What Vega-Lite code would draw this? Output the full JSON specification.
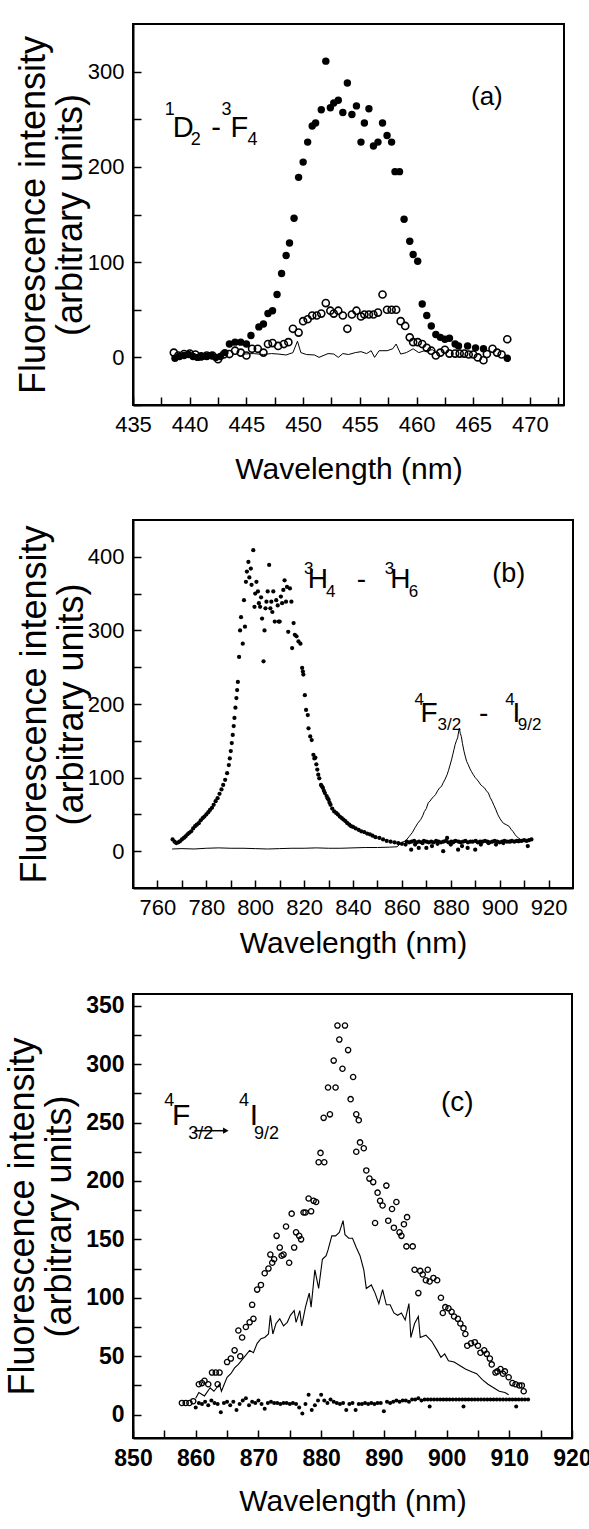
{
  "$schema": "https://vega.github.io/schema/vega-lite/v6.json",
  "padding": {"left": 3, "top": 23, "right": 0, "bottom": 0},
  "background": "white",
  "spacing": 34,
  "align": "none",
  "config": {
    "view": {"stroke": "black", "strokeWidth": 2},
    "font": "Liberation Sans",
    "axis": {
      "grid": false,
      "domainColor": "black",
      "domainWidth": 2,
      "tickColor": "black",
      "tickWidth": 1.5,
      "tickSize": -8,
      "labelPadding": 17,
      "labelColor": "black",
      "labelFont": "Liberation Sans",
      "labelFontSize": 22,
      "labelFlush": false,
      "labelOverlap": false,
      "titleColor": "black",
      "titleFont": "Liberation Sans",
      "titleFontWeight": "normal"
    },
    "axisX": {"titleFontSize": 30, "titlePadding": 14},
    "axisY": {"titleFontSize": 36, "titleLineHeight": 37, "titlePadding": 2}
  },
  "datasets": {
    "a_fill": [
      {"x":438.7,"y":-1},{"x":439.1,"y":1},{"x":439.5,"y":2},{"x":439.9,"y":3},{"x":440.3,"y":1},{"x":440.7,"y":0},{"x":441.1,"y":1},{"x":441.5,"y":1},{"x":441.9,"y":2},{"x":442.3,"y":0},{"x":442.7,"y":1},{"x":443.1,"y":5},
      {"x":443.5,"y":14},{"x":444.0,"y":16},{"x":444.5,"y":16},{"x":445.0,"y":14},{"x":445.4,"y":23},{"x":446.1,"y":32},{"x":446.5,"y":35},{"x":446.9,"y":46},{"x":447.3,"y":49},{"x":447.7,"y":66},{"x":448.1,"y":88},{"x":448.5,"y":107},{"x":448.8,"y":120},{"x":449.2,"y":146},{"x":449.6,"y":189},{"x":450.0,"y":205},{"x":450.4,"y":226},{"x":450.8,"y":243},{"x":451.1,"y":246},{"x":451.6,"y":260},{"x":452.0,"y":311},{"x":452.4,"y":262},{"x":452.7,"y":267},{"x":453.1,"y":270},{"x":453.5,"y":257},{"x":453.9,"y":288},{"x":454.3,"y":255},{"x":454.7,"y":264},{"x":455.1,"y":226},{"x":455.4,"y":246},{"x":455.8,"y":261},{"x":456.2,"y":222},{"x":456.6,"y":226},{"x":457.0,"y":246},{"x":457.4,"y":233},{"x":457.8,"y":226},{"x":458.1,"y":195},{"x":458.5,"y":195},{"x":458.9,"y":145},{"x":459.4,"y":122},{"x":459.7,"y":108},{"x":460.1,"y":101},{"x":460.5,"y":56},{"x":460.9,"y":44},{"x":461.3,"y":33},{"x":461.7,"y":24},{"x":462.1,"y":21},{"x":462.5,"y":19},{"x":462.9,"y":20},{"x":463.4,"y":14},{"x":463.7,"y":12},{"x":464.5,"y":12},{"x":465.2,"y":10},{"x":465.9,"y":9},{"x":468.0,"y":-1}
    ],
    "a_open": [
      {"x":438.6,"y":5},{"x":439.0,"y":2},{"x":439.5,"y":3.5},{"x":440.0,"y":4},{"x":440.5,"y":3},{"x":441.0,"y":1},{"x":441.5,"y":2},{"x":442.0,"y":2},{"x":442.5,"y":-2},{"x":443.0,"y":3},{"x":443.5,"y":3.5},{"x":444.0,"y":7},{"x":444.5,"y":5},{"x":445.0,"y":2},{"x":445.5,"y":9},{"x":446.0,"y":9},{"x":446.5,"y":5},{"x":446.9,"y":14},{"x":447.3,"y":15},{"x":447.8,"y":12},{"x":448.3,"y":14},{"x":448.7,"y":16},{"x":449.1,"y":30},{"x":449.6,"y":26},{"x":450.0,"y":38},{"x":450.4,"y":40},{"x":450.8,"y":44},{"x":451.2,"y":44},{"x":451.6,"y":46},{"x":452.0,"y":57},{"x":452.4,"y":49},{"x":452.7,"y":46},{"x":453.1,"y":49},{"x":453.5,"y":44},{"x":453.9,"y":30},{"x":454.3,"y":45},{"x":454.7,"y":49},{"x":455.1,"y":43},{"x":455.4,"y":45},{"x":455.8,"y":45},{"x":456.2,"y":45},{"x":456.6,"y":47},{"x":457.0,"y":66},{"x":457.4,"y":50},{"x":457.8,"y":50},{"x":458.2,"y":50},{"x":458.6,"y":38},{"x":459.0,"y":33},{"x":459.4,"y":21},{"x":459.7,"y":16},{"x":460.1,"y":16},{"x":460.5,"y":14},{"x":460.9,"y":10},{"x":461.3,"y":7},{"x":461.7,"y":2},{"x":462.1,"y":5},{"x":462.5,"y":8},{"x":462.9,"y":4},{"x":463.4,"y":4},{"x":463.8,"y":4},{"x":464.2,"y":4},{"x":464.6,"y":3},{"x":465.0,"y":3},{"x":465.4,"y":0},{"x":465.9,"y":-3},{"x":466.2,"y":3.5},{"x":466.7,"y":9},{"x":467.1,"y":5},{"x":467.5,"y":3},{"x":468.0,"y":19}
    ],
    "a_line": [
      {"x":444.8,"y":3.5},{"x":445.6,"y":4},{"x":446.5,"y":3},{"x":447.2,"y":4},{"x":447.8,"y":3.5},{"x":448.5,"y":2.5},{"x":449.1,"y":5},{"x":449.5,"y":17},{"x":449.8,"y":5},{"x":450.3,"y":3},{"x":451.0,"y":2.5},{"x":451.4,"y":0},{"x":452.2,"y":4},{"x":452.7,"y":3.5},{"x":453.1,"y":0},{"x":453.5,"y":4},{"x":454.0,"y":3},{"x":454.6,"y":5},{"x":455.1,"y":6},{"x":455.6,"y":4},{"x":456.0,"y":7},{"x":456.3,"y":0},{"x":456.7,"y":7},{"x":457.4,"y":7},{"x":457.9,"y":9},{"x":458.2,"y":14},{"x":458.6,"y":3.5},{"x":459.1,"y":5},{"x":459.7,"y":9},{"x":460.2,"y":5},{"x":460.7,"y":7},{"x":461.4,"y":8},{"x":461.8,"y":4}
    ],
    "b_dots": [
      {"x":766.2,"y":16},{"x":767.0,"y":13},{"x":767.7,"y":11},{"x":768.5,"y":12},{"x":769.2,"y":13.5},{"x":770.0,"y":16},{"x":770.8,"y":18},{"x":771.5,"y":20},{"x":772.3,"y":23},{"x":773.0,"y":25},{"x":773.8,"y":27},{"x":774.6,"y":31},{"x":775.4,"y":34},{"x":776.1,"y":36},{"x":776.9,"y":38},{"x":777.7,"y":42},{"x":778.5,"y":45},{"x":779.2,"y":47},{"x":780.0,"y":50},{"x":780.8,"y":53},{"x":781.5,"y":56},{"x":782.3,"y":59},{"x":783.0,"y":63},{"x":783.8,"y":68},{"x":784.6,"y":72},{"x":785.4,"y":78},{"x":786.2,"y":84},{"x":786.9,"y":90},{"x":787.7,"y":97},{"x":788.5,"y":106},{"x":789.2,"y":117},{"x":789.6,"y":126},{"x":790.0,"y":136},{"x":790.4,"y":147},{"x":790.8,"y":158},{"x":791.2,"y":170},{"x":791.5,"y":181},{"x":791.9,"y":195},{"x":792.3,"y":208},{"x":792.6,"y":219},{"x":792.9,"y":230},{"x":793.4,"y":264},{"x":793.8,"y":300},{"x":794.2,"y":318},{"x":794.9,"y":282},{"x":795.4,"y":341},{"x":795.8,"y":305},{"x":796.2,"y":366},{"x":796.6,"y":380},{"x":797.2,"y":393},{"x":797.6,"y":372},{"x":798.2,"y":384},{"x":798.5,"y":362},{"x":799.2,"y":409},{"x":799.7,"y":332},{"x":800.0,"y":350},{"x":800.5,"y":366},{"x":801.1,"y":353},{"x":801.5,"y":337},{"x":802.0,"y":332},{"x":802.4,"y":345},{"x":802.8,"y":316},{"x":803.4,"y":258},{"x":803.8,"y":300},{"x":804.2,"y":330},{"x":804.6,"y":339},{"x":805.1,"y":353},{"x":805.7,"y":389},{"x":806.2,"y":330},{"x":806.6,"y":339},{"x":807.0,"y":325},{"x":807.4,"y":353},{"x":808.0,"y":312},{"x":808.6,"y":341},{"x":809.2,"y":334},{"x":809.6,"y":312},{"x":810.0,"y":312},{"x":810.5,"y":346},{"x":811.0,"y":337},{"x":811.5,"y":355},{"x":812.0,"y":368},{"x":812.6,"y":339},{"x":813.0,"y":359},{"x":813.5,"y":298},{"x":814.2,"y":357},{"x":814.8,"y":339},{"x":815.1,"y":276},{"x":815.7,"y":310},{"x":816.2,"y":294},{"x":816.9,"y":292},{"x":817.7,"y":285},{"x":818.5,"y":282},{"x":819.2,"y":249},{"x":819.5,"y":244},{"x":819.7,"y":240},{"x":820.3,"y":212},{"x":820.8,"y":192},{"x":821.5,"y":185},{"x":821.8,"y":167},{"x":822.5,"y":156},{"x":823.1,"y":151},{"x":823.8,"y":131},{"x":824.2,"y":126},{"x":824.6,"y":127},{"x":825.0,"y":118},{"x":825.4,"y":111},{"x":825.8,"y":104},{"x":826.2,"y":99},{"x":826.9,"y":90},{"x":827.3,"y":88},{"x":827.7,"y":86},{"x":828.1,"y":82},{"x":828.5,"y":79},{"x":829.2,"y":75},{"x":829.6,"y":72},{"x":830.0,"y":70},{"x":830.4,"y":66},{"x":830.8,"y":63},{"x":831.5,"y":58},{"x":832.3,"y":54},{"x":833.1,"y":52},{"x":833.8,"y":50},{"x":834.6,"y":47},{"x":835.4,"y":45},{"x":836.1,"y":43},{"x":836.9,"y":41},{"x":837.7,"y":38},{"x":838.5,"y":36},{"x":839.2,"y":34},{"x":840.0,"y":33},{"x":841.1,"y":31},{"x":842.3,"y":29},{"x":843.4,"y":27},{"x":844.6,"y":26},{"x":845.8,"y":24},{"x":846.9,"y":23},{"x":848.0,"y":21},{"x":849.2,"y":19},{"x":850.8,"y":18},{"x":852.3,"y":16},{"x":853.8,"y":14},{"x":855.4,"y":13},{"x":857.0,"y":12},{"x":858.5,"y":11},{"x":860.0,"y":10},{"x":861.5,"y":9},
      {"x":862.0,"y":13},{"x":863.0,"y":12},{"x":863.8,"y":2},{"x":864.0,"y":13},{"x":865.0,"y":14},{"x":865.4,"y":9},{"x":866.0,"y":12},{"x":866.9,"y":4.5},{"x":867.0,"y":13},{"x":868.0,"y":12},{"x":868.5,"y":11},{"x":869.0,"y":14},{"x":870.0,"y":4.5},{"x":870.1,"y":13},{"x":871.0,"y":12},{"x":872.0,"y":13},{"x":872.3,"y":7},{"x":873.0,"y":12},{"x":874.0,"y":14},{"x":874.6,"y":10},{"x":875.0,"y":13},{"x":876.0,"y":12},{"x":876.9,"y":0},{"x":877.0,"y":13},{"x":878.0,"y":14},{"x":878.5,"y":18},{"x":879.0,"y":12},{"x":880.0,"y":9},{"x":880.2,"y":13},{"x":881.0,"y":12},{"x":881.5,"y":13.5},{"x":882.0,"y":14},{"x":883.0,"y":2},{"x":883.2,"y":13},{"x":884.0,"y":12},{"x":884.6,"y":7},{"x":885.0,"y":13},{"x":886.0,"y":14},{"x":886.9,"y":4.5},{"x":887.0,"y":12},{"x":888.0,"y":13},{"x":889.0,"y":13},{"x":890.0,"y":2},{"x":890.2,"y":14},{"x":891.0,"y":12},{"x":892.0,"y":13},{"x":892.3,"y":9},{"x":893.0,"y":13},{"x":894.0,"y":14},{"x":895.0,"y":13},{"x":895.4,"y":11},{"x":896.0,"y":12},{"x":897.0,"y":13},{"x":898.0,"y":14},{"x":898.5,"y":9},{"x":899.0,"y":13},{"x":900.0,"y":12},{"x":901.0,"y":13},{"x":901.5,"y":11},{"x":902.0,"y":14},{"x":903.0,"y":13},{"x":904.0,"y":13},{"x":904.6,"y":13.5},{"x":905.0,"y":14},{"x":906.0,"y":13},{"x":907.0,"y":14},{"x":907.7,"y":13.5},{"x":908.0,"y":14},{"x":909.0,"y":14},{"x":910.0,"y":15},{"x":911.0,"y":14},{"x":911.5,"y":7},{"x":912.0,"y":15},{"x":913.0,"y":16}
    ],
    "b_line": [
      {"x":766,"y":3},{"x":770,"y":3.5},{"x":775,"y":3},{"x":780,"y":4},{"x":785,"y":4.5},{"x":790,"y":4},{"x":795,"y":4},{"x":800,"y":3.5},{"x":805,"y":3},{"x":810,"y":3.5},{"x":815,"y":4},{"x":820,"y":4},{"x":825,"y":4.5},{"x":830,"y":4},{"x":835,"y":4},{"x":840,"y":4.5},{"x":845,"y":5},{"x":850,"y":5},{"x":855,"y":5.5},{"x":858,"y":6},{"x":860,"y":12},{"x":861.5,"y":14},{"x":863,"y":20},{"x":864.2,"y":25},{"x":865.4,"y":32},{"x":866.5,"y":38},{"x":867.7,"y":43},{"x":868.5,"y":48},{"x":869.2,"y":54},{"x":870.0,"y":58},{"x":870.8,"y":66},{"x":871.5,"y":68},{"x":872.3,"y":72},{"x":873.0,"y":74},{"x":873.8,"y":77},{"x":874.6,"y":82},{"x":875.4,"y":86},{"x":876.2,"y":88},{"x":876.9,"y":93},{"x":877.7,"y":98},{"x":878.5,"y":104},{"x":879.1,"y":110},{"x":879.7,"y":117},{"x":880.3,"y":124},{"x":880.8,"y":131},{"x":881.3,"y":138},{"x":881.8,"y":145},{"x":882.3,"y":150},{"x":882.8,"y":154},{"x":883.2,"y":162},{"x":883.5,"y":167},{"x":883.9,"y":160},{"x":884.3,"y":156},{"x":884.8,"y":146},{"x":885.4,"y":136},{"x":886.0,"y":128},{"x":886.5,"y":122},{"x":887.1,"y":118},{"x":887.7,"y":113},{"x":888.5,"y":108},{"x":889.2,"y":104},{"x":890.0,"y":100},{"x":890.8,"y":97},{"x":891.5,"y":94},{"x":892.3,"y":90},{"x":893.0,"y":88},{"x":893.8,"y":86},{"x":894.6,"y":82},{"x":895.4,"y":79},{"x":896.1,"y":73},{"x":896.9,"y":68},{"x":897.7,"y":62},{"x":898.5,"y":56},{"x":899.2,"y":50},{"x":900.0,"y":45},{"x":900.8,"y":41},{"x":901.5,"y":38},{"x":902.7,"y":36},{"x":903.8,"y":34},{"x":904.6,"y":30},{"x":905.4,"y":27},{"x":906.2,"y":23},{"x":906.9,"y":20},{"x":907.7,"y":18},{"x":908.5,"y":16},{"x":910.0,"y":15},{"x":912.0,"y":14}
    ],
    "c_open": [
      {"x":857.8,"y":10},{"x":858.4,"y":10},{"x":859.0,"y":10},{"x":859.6,"y":11.5},{"x":860.5,"y":26},{"x":861.0,"y":27},{"x":861.4,"y":29},{"x":862.0,"y":26},{"x":862.6,"y":36},{"x":863.2,"y":36},{"x":863.5,"y":26},{"x":863.8,"y":36},{"x":865.0,"y":45},{"x":865.6,"y":48},{"x":866.2,"y":55},{"x":866.8,"y":72},{"x":867.1,"y":50},{"x":867.4,"y":66},{"x":868.0,"y":75},{"x":868.6,"y":79},{"x":869.0,"y":94},{"x":869.2,"y":82},{"x":869.8,"y":107},{"x":870.4,"y":111},{"x":871.0,"y":121},{"x":871.6,"y":125},{"x":871.9,"y":137},{"x":872.2,"y":130},{"x":872.5,"y":133},{"x":872.9,"y":153},{"x":873.4,"y":143},{"x":873.7,"y":136},{"x":874.0,"y":137},{"x":874.4,"y":161},{"x":874.9,"y":130},{"x":875.3,"y":172},{"x":875.7,"y":143},{"x":876.0,"y":156},{"x":876.5,"y":153},{"x":876.8,"y":150},{"x":877.2,"y":173},{"x":877.5,"y":173},{"x":878.0,"y":185},{"x":878.4,"y":174},{"x":878.8,"y":183},{"x":879.2,"y":182},{"x":879.6,"y":216},{"x":879.9,"y":224},{"x":880.4,"y":254},{"x":880.5,"y":216},{"x":881.1,"y":280},{"x":881.4,"y":257},{"x":882.0,"y":303},{"x":882.3,"y":280},{"x":882.6,"y":333},{"x":882.9,"y":321},{"x":883.4,"y":296},{"x":883.8,"y":333},{"x":884.3,"y":312},{"x":884.7,"y":270},{"x":885.1,"y":289},{"x":885.6,"y":257},{"x":885.6,"y":225},{"x":886.0,"y":252},{"x":886.2,"y":233},{"x":886.8,"y":228},{"x":887.2,"y":209},{"x":887.7,"y":202},{"x":888.3,"y":199},{"x":888.6,"y":164},{"x":889.0,"y":190},{"x":889.4,"y":183},{"x":889.8,"y":179},{"x":890.4,"y":196},{"x":890.7,"y":166},{"x":891.3,"y":176},{"x":891.6,"y":160},{"x":892.0,"y":182},{"x":892.5,"y":156},{"x":892.8,"y":153},{"x":893.2,"y":163},{"x":893.6,"y":144},{"x":893.7,"y":169},{"x":894.6,"y":144},{"x":894.9,"y":124},{"x":895.5,"y":104},{"x":895.8,"y":123},{"x":896.2,"y":120},{"x":896.7,"y":115},{"x":897.0,"y":124},{"x":897.3,"y":114},{"x":897.9,"y":117},{"x":898.5,"y":115},{"x":899.1,"y":100},{"x":899.4,"y":87},{"x":899.8,"y":92},{"x":900.3,"y":91},{"x":900.8,"y":88},{"x":901.2,"y":84},{"x":901.8,"y":82},{"x":902.2,"y":78},{"x":902.7,"y":74},{"x":903.0,"y":69},{"x":903.3,"y":59},{"x":903.9,"y":61},{"x":904.5,"y":62},{"x":905.0,"y":59},{"x":905.4,"y":53},{"x":906.0,"y":55},{"x":906.4,"y":52},{"x":906.9,"y":48},{"x":907.2,"y":43},{"x":907.8,"y":36},{"x":908.1,"y":37},{"x":908.6,"y":39},{"x":909.0,"y":35},{"x":909.3,"y":37},{"x":909.9,"y":32},{"x":910.5,"y":27},{"x":911.0,"y":26},{"x":911.6,"y":25},{"x":912.0,"y":25},{"x":912.3,"y":20}
    ],
    "c_line": [
      {"x":860.0,"y":14},{"x":860.5,"y":19},{"x":861.4,"y":16},{"x":862.3,"y":23},{"x":862.9,"y":20},{"x":863.8,"y":26},{"x":864.1,"y":20},{"x":865.0,"y":32},{"x":865.6,"y":35},{"x":866.2,"y":40},{"x":866.8,"y":43},{"x":867.7,"y":49},{"x":868.6,"y":55},{"x":869.2,"y":53},{"x":869.8,"y":61},{"x":870.4,"y":65},{"x":871.0,"y":66},{"x":871.6,"y":69},{"x":871.9,"y":85},{"x":872.3,"y":69},{"x":872.8,"y":78},{"x":873.4,"y":82},{"x":874.0,"y":76},{"x":874.6,"y":79},{"x":875.1,"y":85},{"x":875.7,"y":89},{"x":876.0,"y":79},{"x":876.6,"y":89},{"x":876.9,"y":76},{"x":877.5,"y":92},{"x":878.1,"y":104},{"x":878.4,"y":92},{"x":879.0,"y":124},{"x":879.6,"y":108},{"x":880.2,"y":133},{"x":880.8,"y":136},{"x":881.1,"y":141},{"x":881.7,"y":153},{"x":882.3,"y":153},{"x":882.9,"y":156},{"x":883.5,"y":166},{"x":883.8,"y":154},{"x":884.4,"y":151},{"x":885.0,"y":151},{"x":885.6,"y":143},{"x":886.2,"y":136},{"x":886.8,"y":124},{"x":887.2,"y":108},{"x":888.0,"y":111},{"x":888.6,"y":104},{"x":889.2,"y":95},{"x":889.8,"y":107},{"x":890.4,"y":94},{"x":891.0,"y":94},{"x":891.6,"y":87},{"x":892.2,"y":85},{"x":892.8,"y":87},{"x":893.4,"y":81},{"x":894.0,"y":95},{"x":894.3,"y":66},{"x":894.9,"y":78},{"x":895.5,"y":84},{"x":895.8,"y":66},{"x":896.7,"y":68},{"x":897.6,"y":63},{"x":898.5,"y":55},{"x":899.1,"y":49},{"x":899.7,"y":52},{"x":900.3,"y":46},{"x":901.2,"y":45},{"x":902.1,"y":42},{"x":903.0,"y":39},{"x":903.9,"y":37},{"x":904.8,"y":35},{"x":905.7,"y":30},{"x":906.6,"y":26},{"x":907.5,"y":23},{"x":908.4,"y":20},{"x":909.3,"y":19},{"x":909.9,"y":17}
    ],
    "c_dots": [
      {"x":860.0,"y":6},{"x":860.5,"y":10},{"x":861.0,"y":9},{"x":861.5,"y":11},{"x":862.0,"y":8},{"x":862.5,"y":12},{"x":863.0,"y":10},{"x":863.5,"y":9},{"x":864.0,"y":2},{"x":864.5,"y":10},{"x":865.0,"y":11},{"x":865.5,"y":8},{"x":866.0,"y":11},{"x":866.5,"y":4},{"x":867.0,"y":9},{"x":867.5,"y":12},{"x":868.0,"y":14},{"x":868.5,"y":8},{"x":869.0,"y":11},{"x":869.5,"y":10},{"x":870.0,"y":12},{"x":870.5,"y":9},{"x":871.0,"y":5},{"x":871.5,"y":10},{"x":872.0,"y":11},{"x":872.5,"y":10},{"x":873.0,"y":10},{"x":873.5,"y":9},{"x":874.0,"y":10},{"x":874.5,"y":10},{"x":875.0,"y":9},{"x":875.5,"y":10},{"x":876.0,"y":9},{"x":876.5,"y":6},{"x":877.0,"y":1},{"x":877.5,"y":9},{"x":878.0,"y":17},{"x":878.5,"y":4},{"x":879.0,"y":8},{"x":879.5,"y":12},{"x":880.0,"y":17},{"x":880.5,"y":12},{"x":881.0,"y":10},{"x":881.5,"y":13},{"x":882.0,"y":11},{"x":882.5,"y":10},{"x":883.0,"y":9},{"x":883.5,"y":10},{"x":884.0,"y":4},{"x":884.5,"y":9},{"x":885.0,"y":10},{"x":885.5,"y":4},{"x":886.0,"y":9},{"x":886.5,"y":9},{"x":887.0,"y":10},{"x":887.5,"y":9},{"x":888.0,"y":10},{"x":888.5,"y":9},{"x":889.0,"y":10},{"x":889.5,"y":10},{"x":890.0,"y":3},{"x":890.5,"y":11},{"x":891.0,"y":10},{"x":891.5,"y":11},{"x":892.0,"y":12},{"x":892.5,"y":11},{"x":893.0,"y":12},{"x":893.5,"y":12},{"x":894.0,"y":11},{"x":894.5,"y":13},{"x":895.0,"y":13},{"x":895.5,"y":14},{"x":896.0,"y":12},{"x":896.5,"y":13},{"x":897.0,"y":13},{"x":897.3,"y":7},{"x":897.5,"y":13},{"x":898.0,"y":13},{"x":898.5,"y":13},{"x":899.0,"y":13},{"x":899.5,"y":13},{"x":900.0,"y":13},{"x":900.5,"y":13},{"x":901.0,"y":13},{"x":901.5,"y":13},{"x":902.0,"y":13},{"x":902.5,"y":13},{"x":902.7,"y":7},{"x":903.0,"y":13},{"x":903.5,"y":13},{"x":904.0,"y":13},{"x":904.5,"y":13},{"x":905.0,"y":13},{"x":905.5,"y":13},{"x":906.0,"y":13},{"x":906.5,"y":13},{"x":907.0,"y":13},{"x":907.5,"y":13},{"x":908.0,"y":13},{"x":908.5,"y":13},{"x":909.0,"y":13},{"x":909.5,"y":13},{"x":910.0,"y":13},{"x":910.5,"y":13},{"x":911.0,"y":13},{"x":911.1,"y":7},{"x":911.5,"y":13},{"x":912.0,"y":13},{"x":912.5,"y":13},{"x":913.0,"y":13}
    ],
    "ann": [
      {"panel":"a","role":"sup","x":437.8,"y":254,"t":"1"},
      {"panel":"a","role":"main","x":438.5,"y":231,"t":"D"},
      {"panel":"a","role":"sub","x":440.1,"y":223,"t":"2"},
      {"panel":"a","role":"main","x":441.9,"y":231,"t":"-"},
      {"panel":"a","role":"sup","x":442.8,"y":254,"t":"3"},
      {"panel":"a","role":"main","x":443.6,"y":231,"t":"F"},
      {"panel":"a","role":"sub","x":445.1,"y":223,"t":"4"},
      {"panel":"a","role":"tag","x":464.8,"y":265,"t":"(a)"},
      {"panel":"b","role":"sup","x":820.0,"y":377,"t":"3"},
      {"panel":"b","role":"main","x":821.5,"y":357,"t":"H"},
      {"panel":"b","role":"sub","x":829.0,"y":345,"t":"4"},
      {"panel":"b","role":"main","x":841.5,"y":357,"t":"-"},
      {"panel":"b","role":"sup","x":853.0,"y":377,"t":"3"},
      {"panel":"b","role":"main","x":855.2,"y":357,"t":"H"},
      {"panel":"b","role":"sub","x":862.8,"y":345,"t":"6"},
      {"panel":"b","role":"tag","x":897.0,"y":366,"t":"(b)"},
      {"panel":"b","role":"sup","x":865.2,"y":199,"t":"4"},
      {"panel":"b","role":"main","x":867.6,"y":176,"t":"F"},
      {"panel":"b","role":"sub","x":874.6,"y":165,"t":"3/2"},
      {"panel":"b","role":"main","x":891.5,"y":176,"t":"-"},
      {"panel":"b","role":"sup","x":902.3,"y":199,"t":"4"},
      {"panel":"b","role":"main","x":905.2,"y":176,"t":"I"},
      {"panel":"b","role":"sub","x":907.4,"y":165,"t":"9/2"},
      {"panel":"c","role":"sup","x":855.0,"y":264,"t":"4"},
      {"panel":"c","role":"main","x":856.2,"y":248,"t":"F"},
      {"panel":"c","role":"sub","x":858.8,"y":236,"t":"3/2"},
      {"panel":"c","role":"sup","x":866.9,"y":264,"t":"4"},
      {"panel":"c","role":"main","x":868.6,"y":248,"t":"I"},
      {"panel":"c","role":"sub","x":869.3,"y":236,"t":"9/2"},
      {"panel":"c","role":"tag","x":899.1,"y":260,"t":"(c)"}
    ],
    "c_arrow": [{"x":859.8,"x2":864.8,"y":243}]
  },
  "vconcat": [
    {
      "width": 431,
      "height": 381,
      "encoding": {
        "x": {"field": "x", "type": "quantitative", "scale": {"domain": [435, 473], "nice": false, "zero": false},
          "axis": {"title": "Wavelength (nm)", "titlePadding": 19, "values": [435,437.5,440,442.5,445,447.5,450,452.5,455,457.5,460,462.5,465,467.5,470,472.5], "labelExpr": "datum.value % 5 === 0 ? datum.label : ''"}},
        "y": {"field": "y", "type": "quantitative", "scale": {"domain": [-50, 350], "nice": false, "zero": false},
          "axis": {"title": ["Fluorescence intensity", "(arbitrary units)"], "titlePadding": -2, "values": [-50,0,50,100,150,200,250,300], "labelExpr": "datum.value % 100 === 0 && datum.value >= 0 ? datum.label : ''"}}
      },
      "layer": [
        {"data": {"name": "a_fill"}, "mark": {"type": "point", "filled": true, "color": "black", "size": 55, "opacity": 1}},
        {"data": {"name": "a_open"}, "mark": {"type": "point", "filled": false, "color": "black", "size": 50, "strokeWidth": 1.6, "opacity": 1}},
        {"data": {"name": "a_line"}, "mark": {"type": "line", "color": "black", "strokeWidth": 1}},
        {"data": {"name": "ann"}, "transform": [{"filter": "datum.panel === 'a' && datum.role === 'main'"}], "mark": {"type": "text", "align": "left", "baseline": "alphabetic", "fontSize": 29, "color": "black"}, "encoding": {"text": {"field": "t"}}},
        {"data": {"name": "ann"}, "transform": [{"filter": "datum.panel === 'a' && (datum.role === 'sup' || datum.role === 'sub')"}], "mark": {"type": "text", "align": "left", "baseline": "alphabetic", "fontSize": 18, "color": "black"}, "encoding": {"text": {"field": "t"}}},
        {"data": {"name": "ann"}, "transform": [{"filter": "datum.panel === 'a' && datum.role === 'tag'"}], "mark": {"type": "text", "align": "left", "baseline": "alphabetic", "fontSize": 26, "color": "black"}, "encoding": {"text": {"field": "t"}}}
      ]
    },
    {
      "width": 440,
      "height": 368,
      "encoding": {
        "x": {"field": "x", "type": "quantitative", "scale": {"domain": [750, 930], "nice": false, "zero": false},
          "axis": {"title": "Wavelength (nm)", "titlePadding": 10, "values": [760,770,780,790,800,810,820,830,840,850,860,870,880,890,900,910,920], "labelExpr": "datum.value % 20 === 0 ? datum.label : ''"}},
        "y": {"field": "y", "type": "quantitative", "scale": {"domain": [-50, 450], "nice": false, "zero": false},
          "axis": {"title": ["Fluorescence intensity", "(arbitrary units)"], "titlePadding": -3, "values": [0,50,100,150,200,250,300,350,400], "labelExpr": "datum.value % 100 === 0 ? datum.label : ''"}}
      },
      "layer": [
        {"data": {"name": "b_line"}, "mark": {"type": "line", "color": "black", "strokeWidth": 1}},
        {"data": {"name": "b_dots"}, "mark": {"type": "point", "filled": true, "color": "black", "size": 18, "opacity": 1}},
        {"data": {"name": "ann"}, "transform": [{"filter": "datum.panel === 'b' && datum.role === 'main'"}], "mark": {"type": "text", "align": "left", "baseline": "alphabetic", "fontSize": 28, "color": "black"}, "encoding": {"text": {"field": "t"}}},
        {"data": {"name": "ann"}, "transform": [{"filter": "datum.panel === 'b' && (datum.role === 'sup' || datum.role === 'sub')"}], "mark": {"type": "text", "align": "left", "baseline": "alphabetic", "fontSize": 17, "color": "black"}, "encoding": {"text": {"field": "t"}}},
        {"data": {"name": "ann"}, "transform": [{"filter": "datum.panel === 'b' && datum.role === 'tag'"}], "mark": {"type": "text", "align": "left", "baseline": "alphabetic", "fontSize": 27, "color": "black"}, "encoding": {"text": {"field": "t"}}}
      ]
    },
    {
      "width": 439,
      "height": 444,
      "encoding": {
        "x": {"field": "x", "type": "quantitative", "scale": {"domain": [850, 920], "nice": false, "zero": false},
          "axis": {"title": "Wavelength (nm)", "titlePadding": 16, "labelFontSize": 23, "labelFontWeight": "bold", "values": [850,855,860,865,870,875,880,885,890,895,900,905,910,915,920], "labelExpr": "datum.value % 10 === 0 ? datum.label : ''"}},
        "y": {"field": "y", "type": "quantitative", "scale": {"domain": [-20, 360], "nice": false, "zero": false},
          "axis": {"title": ["Fluorescence intensity", "(arbitrary units)"], "titlePadding": 7, "labelFontSize": 23, "labelFontWeight": "bold", "values": [0,25,50,75,100,125,150,175,200,225,250,275,300,325,350], "labelExpr": "datum.value % 50 === 0 ? datum.label : ''"}}
      },
      "layer": [
        {"data": {"name": "c_dots"}, "mark": {"type": "point", "filled": true, "color": "black", "size": 16, "opacity": 1}},
        {"data": {"name": "c_open"}, "mark": {"type": "point", "filled": false, "color": "black", "size": 28, "strokeWidth": 1.3, "opacity": 1}},
        {"data": {"name": "c_line"}, "mark": {"type": "line", "color": "black", "strokeWidth": 1.1}},
        {"data": {"name": "c_arrow"}, "mark": {"type": "rule", "color": "black", "strokeWidth": 1.5}, "encoding": {"x2": {"field": "x2"}}},
        {"data": {"name": "c_arrow"}, "mark": {"type": "point", "shape": "triangle-right", "filled": true, "color": "black", "size": 40, "opacity": 1}, "encoding": {"x": {"field": "x2", "type": "quantitative"}}},
        {"data": {"name": "ann"}, "transform": [{"filter": "datum.panel === 'c' && datum.role === 'main'"}], "mark": {"type": "text", "align": "left", "baseline": "alphabetic", "fontSize": 30, "color": "black"}, "encoding": {"text": {"field": "t"}}},
        {"data": {"name": "ann"}, "transform": [{"filter": "datum.panel === 'c' && (datum.role === 'sup' || datum.role === 'sub')"}], "mark": {"type": "text", "align": "left", "baseline": "alphabetic", "fontSize": 18, "color": "black"}, "encoding": {"text": {"field": "t"}}},
        {"data": {"name": "ann"}, "transform": [{"filter": "datum.panel === 'c' && datum.role === 'tag'"}], "mark": {"type": "text", "align": "left", "baseline": "alphabetic", "fontSize": 28, "color": "black"}, "encoding": {"text": {"field": "t"}}}
      ]
    }
  ]
}
